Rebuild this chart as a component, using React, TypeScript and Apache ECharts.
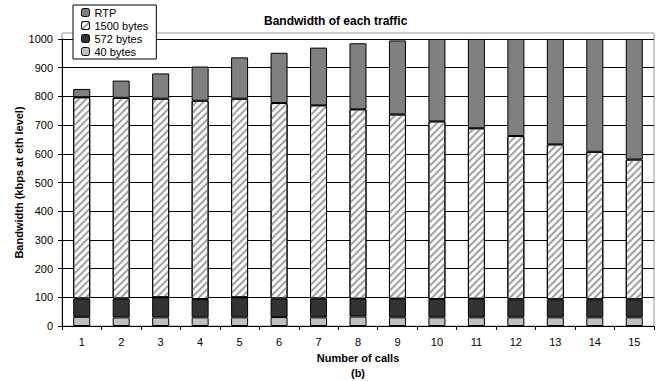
import React, { useEffect, useRef } from "react";
import * as echarts from "echarts";

const categories = ["1", "2", "3", "4", "5", "6", "7", "8", "9", "10", "11", "12", "13", "14", "15"];
const bytes40 = [32, 30, 30, 30, 30, 31, 30, 33, 30, 30, 30, 30, 30, 30, 30];
const bytes572 = [64, 66, 70, 64, 70, 65, 66, 62, 65, 64, 65, 63, 63, 63, 63];
const bytes1500 = [701, 699, 692, 691, 692, 681, 673, 660, 642, 619, 594, 569, 540, 514, 487];
const rtp = [29, 60, 88, 119, 144, 175, 201, 230, 258, 287, 311, 338, 367, 393, 420];
const yTicks = [0, 100, 200, 300, 400, 500, 600, 700, 800, 900, 1000];

const FONT = "Liberation Sans, Arial, sans-serif";

export default function App() {
  const ref = useRef<HTMLDivElement>(null);
  useEffect(() => {
    if (!ref.current) return;
    const chart = echarts.init(ref.current, undefined, { renderer: "svg" });
    const barBase = {
      type: "bar",
      stack: "total",
      barWidth: 17,
      itemStyle: { borderColor: "#000", borderWidth: 1 },
    };
    chart.setOption({
      animation: false,
      backgroundColor: "#fff",
      textStyle: { fontFamily: FONT },
      title: {
        text: "Bandwidth of each traffic",
        left: 259,
        top: 10,
        textStyle: { fontFamily: FONT, fontSize: 12, fontWeight: "bold", color: "#000" },
      },
      legend: {
        data: ["RTP", "1500 bytes", "572 bytes", "40 bytes"],
        orient: "vertical",
        left: 73,
        top: 5,
        padding: [2, 8, 2, 8],
        itemWidth: 8,
        itemHeight: 8,
        itemGap: 2,
        backgroundColor: "#fff",
        borderColor: "#000",
        borderWidth: 1,
        borderRadius: 0,
        z: 10,
        textStyle: { fontFamily: FONT, fontSize: 11, color: "#000" },
        itemStyle: { borderColor: "#000", borderWidth: 1 },
      },
      grid: { left: 62, right: 6, top: 39, bottom: 55, outerBoundsMode: "none", containLabel: false },
      graphic: [
        {
          type: "rect",
          shape: { x: 62, y: 33, width: 592, height: 293 },
          style: { fill: "none", stroke: "#999", lineWidth: 1 },
          silent: true,
          z: 0,
        },
      ],
      xAxis: {
        type: "category",
        data: categories,
        name: "Number of calls\n(b)",
        nameLocation: "middle",
        nameGap: 24,
        nameMoveOverlap: false,
        nameTextStyle: { fontFamily: FONT, fontSize: 11, fontWeight: "bold", color: "#000", lineHeight: 15 },
        axisLine: { lineStyle: { color: "#000", width: 1 } },
        axisTick: { show: true, length: 4, lineStyle: { color: "#000" } },
        axisLabel: { fontFamily: FONT, fontSize: 11, color: "#000", margin: 10 },
      },
      yAxis: {
        type: "value",
        min: 0,
        max: 1000,
        interval: 100,
        name: "Bandwidth (kbps at eth level)",
        nameLocation: "middle",
        nameGap: 38,
        nameMoveOverlap: false,
        nameTextStyle: { fontFamily: FONT, fontSize: 11, fontWeight: "bold", color: "#000" },
        axisLine: { show: true, lineStyle: { color: "#000", width: 1 } },
        axisTick: { show: true, length: 4, lineStyle: { color: "#000" } },
        axisLabel: {
          fontFamily: FONT,
          fontSize: 11,
          color: "#000",
          margin: 9,
          formatter: (v: number) => (yTicks.includes(v) ? String(v) : ""),
        },
        splitLine: { show: true, lineStyle: { color: "#000", width: 1 } },
      },
      series: [
        { ...barBase, name: "40 bytes", data: bytes40, itemStyle: { ...barBase.itemStyle, color: "#c0c0c0" } },
        { ...barBase, name: "572 bytes", data: bytes572, itemStyle: { ...barBase.itemStyle, color: "#333333" } },
        {
          ...barBase,
          name: "1500 bytes",
          data: bytes1500,
          itemStyle: {
            ...barBase.itemStyle,
            color: "#ffffff",
            decal: {
              symbol: "rect",
              symbolSize: 1,
              color: "#a0a0a0",
              dashArrayX: [1, 0],
              dashArrayY: [1.5, 3],
              rotation: -Math.PI / 4,
            },
          },
        },
        { ...barBase, name: "RTP", data: rtp, itemStyle: { ...barBase.itemStyle, color: "#808080" } },
      ],
    });
    return () => chart.dispose();
  }, []);
  return <div ref={ref} style={{ width: 660, height: 381, position: "absolute", left: 0, top: 0 }} />;
}
